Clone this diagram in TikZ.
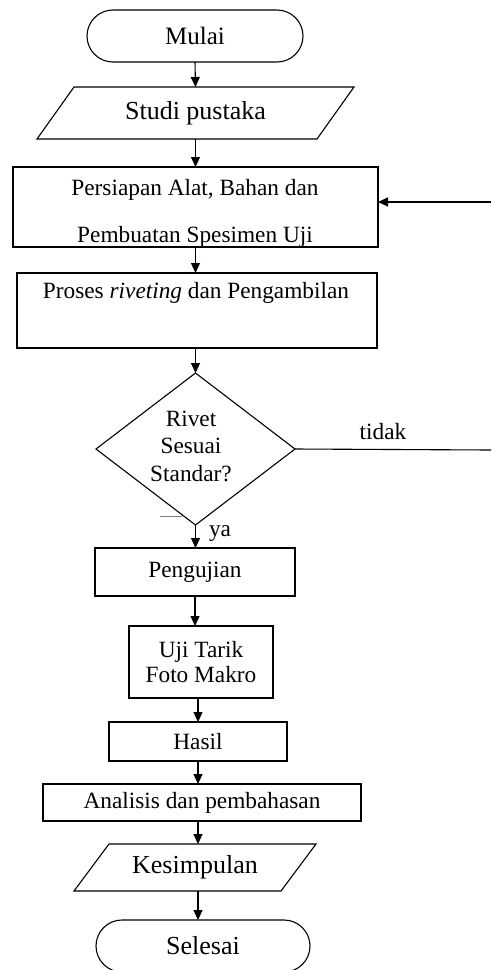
\documentclass[tikz,border=0pt]{standalone}
\usepackage{fontspec}
\setmainfont{Liberation Serif}
\usetikzlibrary{arrows.meta,calc}
\begin{document}
\begin{tikzpicture}[x=1pt,y=-1pt,line width=1.1pt,
  every node/.style={font=\fontsize{23.3}{25}\selectfont,inner sep=0pt,outer sep=0pt},
  bigtext/.style={font=\fontsize{26}{28}\selectfont},
  term/.style={draw,rounded corners=26pt,minimum height=52pt,bigtext},
  procbox/.style={draw,rectangle},
  arr/.style={-{Triangle[length=10pt,width=9pt]}}]
\useasboundingbox (0,0) rectangle (491,970);
% nodes
\node[term,minimum width=216pt,font=\fontsize{25}{27}\selectfont] (mulai) at (195,36) {Mulai};
\node[bigtext,minimum width=317pt,minimum height=52pt] (studi) at (195.5,113) {Studi pustaka};
\draw ([xshift=37pt]studi.north west) -- (studi.north east) -- ([xshift=-37pt]studi.south east) -- (studi.south west) -- cycle;
\node[procbox,minimum width=365pt,minimum height=80pt] (prep) at (195.5,207) {};
\node[align=center] (prepT) at (195,213) {Persiapan Alat, Bahan dan\\[22pt]Pembuatan Spesimen Uji};
\node[procbox,minimum width=360pt,minimum height=75pt] (proses) at (197,310.5) {};
\node (prosesT) at (196,293) {Proses \textit{riveting} dan Pengambilan};
\node[minimum width=199pt,minimum height=152pt] (cek) at (195.5,449) {};
\draw (cek.north) -- (cek.east) -- (cek.south) -- (cek.west) -- cycle;
\node[align=center,font=\fontsize{23.3}{27.5}\selectfont] (cekT) at (191,446) {Rivet\\Sesuai\\Standar?};
\node (tidak) at (383,432) {tidak};
\node (ya) at (220,534) {ya};
\node[procbox,minimum width=200pt,minimum height=48pt] (peng) at (195,572) {Pengujian};
\node[procbox,minimum width=144pt,minimum height=72pt,align=center] (uji) at (201,662) {Uji Tarik\\Foto Makro};
\node[procbox,minimum width=178pt,minimum height=39pt] (hasil) at (198,741.5) {Hasil};
\node[procbox,minimum width=318pt,minimum height=37pt] (anal) at (202,802.5) {Analisis dan pembahasan};
\node[bigtext,minimum width=242pt,minimum height=47pt] (kes) at (195,867.5) {Kesimpulan};
\draw ([xshift=35pt]kes.north west) -- (kes.north east) -- ([xshift=-35pt]kes.south east) -- (kes.south west) -- cycle;
\node[term,minimum width=214pt] (sel) at (203,946) {Selesai};
% connectors
\draw[arr] (mulai.south) -- (studi.north);
\draw[arr] (studi.south) -- (studi.south |- prep.north);
\draw[arr] (prep.south) -- (prep.south |- proses.north);
\draw[arr] (cek.north |- proses.south) -- (cek.north);
\draw[arr] (cek.south) -- (cek.south |- peng.north);
\draw[arr] (peng.south) -- (peng.south |- uji.north);
\draw[arr] (uji.south -| hasil.north) -- (hasil.north);
\draw[arr] (hasil.south) -- (hasil.south |- anal.north);
\draw[arr] (anal.south -| hasil.south) -- (kes.north -| hasil.south);
\draw[arr] (kes.south -| hasil.south) -- (sel.north -| hasil.south);
% feedback
\coordinate (r1) at (491,450);
\coordinate (r2) at (491,202);
\draw (cek.east) -- (r1);
\draw[arr] (r2) -- (r2 -| prep.east);
% stray mark
\draw[line width=0.6pt,gray] (160,516) -- (182,516);
\end{tikzpicture}
\end{document}
